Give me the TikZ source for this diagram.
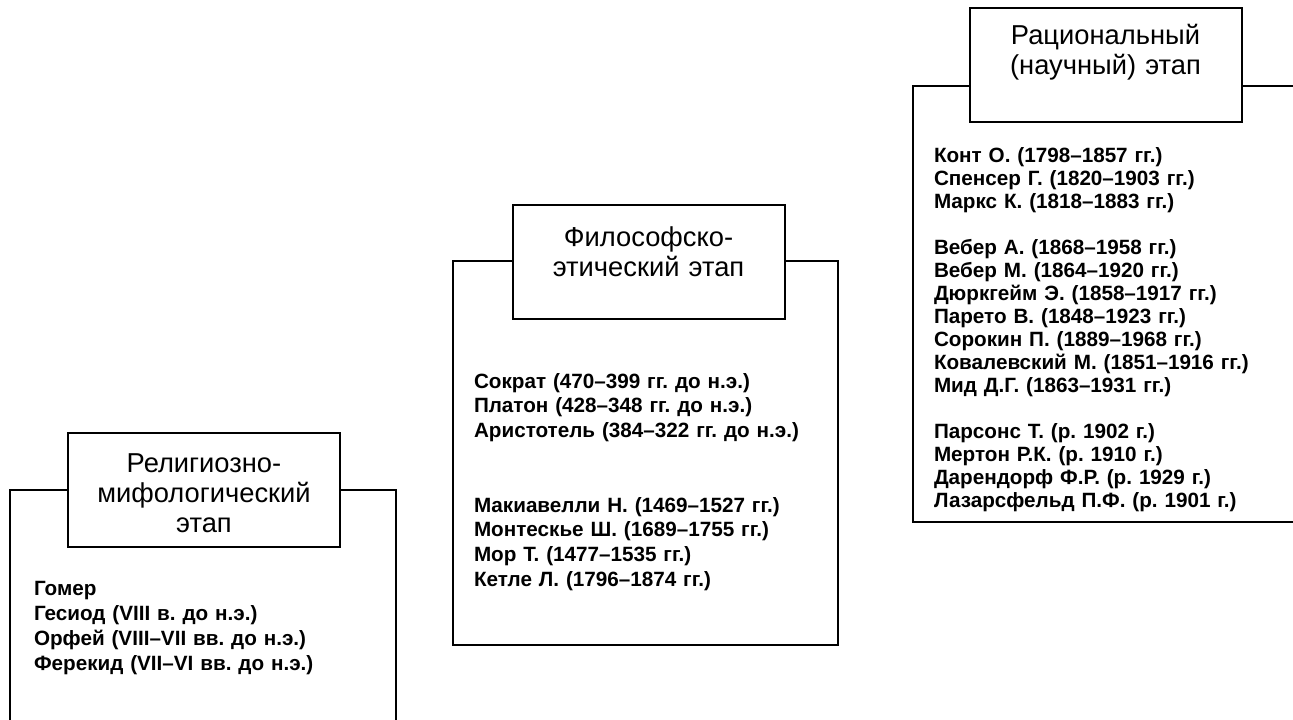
\documentclass[tikz,border=0pt]{standalone}
\usepackage{fontspec}
\setmainfont{Liberation Sans}
\frenchspacing
\tikzset{every picture/.style={line width=1.5pt}}

\begin{document}
\begin{tikzpicture}[x=0.75pt,y=0.75pt,yscale=-1,xscale=1,
  stagebox/.style={draw, fill=white, minimum width=204pt, minimum height=85.5pt, inner sep=0pt},
  stagetitle/.style={font=\fontsize{20.5}{22.5}\selectfont, align=center, text width=195pt, inner sep=0pt, anchor=base},
  namelist/.style={font=\fontsize{15.5}{18.6}\selectfont\bfseries, align=left, text width=250pt, inner sep=0pt, anchor=base west}]
\useasboundingbox (0,0) rectangle (1293,720);
\clip (0,0) rectangle (1293,720);

%Frame: religious-mythological stage
\draw  (68,490) -- (10,490) -- (10,730) ;
\draw  (340,490) -- (396,490) -- (396,730) ;
%Frame: philosophical stage
\draw  (513,261) -- (453,261) -- (453,645) -- (838,645) -- (838,261) -- (784,261) ;
%Frame: rational stage
\draw  (969,86) -- (913,86) -- (913,522) -- (1300,522) ;
\draw  (1242,86) -- (1300,86) ;

%Title boxes
\node [stagebox] (relBox) at (204,490) {};
\node [stagebox] (philBox) at (648.5,262.5) {};
\node [stagebox] (ratBox) at (1105.5,65.5) {};

% Text Node
\node [stagetitle] (relTitle) at (204,472) {Религиозно-\\мифологический\\этап};
% Text Node
\node [stagetitle] (philTitle) at (648.5,247) {Философско-\\этический этап};
% Text Node
\node [stagetitle] (ratTitle) at (1105.5,45) {Рациональный\\(научный) этап};

% Text Node
\node [namelist, font=\fontsize{15.5}{18.75}\selectfont\bfseries] (relList) at (33,595) {Гомер\\Гесиод (VIII в. до н.э.)\\Орфей (VIII–VII вв. до н.э.)\\Ферекид (VII–VI вв. до н.э.)};
% Text Node
\node [namelist] (philList) at (473,388) {Сократ (470–399 гг. до н.э.)\\Платон (428–348 гг. до н.э.)\\Аристотель (384–322 гг. до н.э.)\\[2\baselineskip]Макиавелли Н. (1469–1527 гг.)\\Монтескье Ш. (1689–1755 гг.)\\Мор Т. (1477–1535 гг.)\\Кетле Л. (1796–1874 гг.)};
% Text Node
\node [namelist, font=\fontsize{15.5}{17.25}\selectfont\bfseries] (ratList) at (933,163) {Конт О. (1798–1857 гг.)\\Спенсер Г. (1820–1903 гг.)\\Маркс К. (1818–1883 гг.)\\[\baselineskip]Вебер А. (1868–1958 гг.)\\Вебер М. (1864–1920 гг.)\\Дюркгейм Э. (1858–1917 гг.)\\Парето В. (1848–1923 гг.)\\Сорокин П. (1889–1968 гг.)\\Ковалевский М. (1851–1916 гг.)\\Мид Д.Г. (1863–1931 гг.)\\[\baselineskip]Парсонс Т. (р. 1902 г.)\\Мертон Р.К. (р. 1910 г.)\\Дарендорф Ф.Р. (р. 1929 г.)\\Лазарсфельд П.Ф. (р. 1901 г.)};

\end{tikzpicture}
\end{document}
